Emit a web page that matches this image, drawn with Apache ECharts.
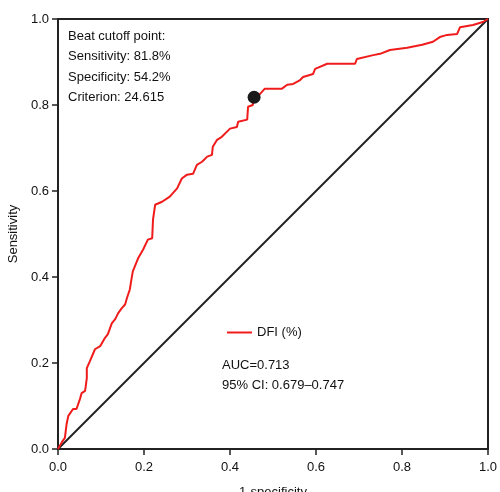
<!DOCTYPE html>
<html>
<head>
<meta charset="utf-8">
<script src="https://cdn.jsdelivr.net/npm/echarts@6/dist/echarts.min.js"></script>
<style>html,body{margin:0;padding:0;background:#fff}#c{width:500px;height:492px}</style>
</head>
<body>
<div id="c"></div>
<script>
const rocX = [0,0.009,0.016,0.020,0.024,0.035,0.043,0.051,0.055,0.063,0.067,0.067,0.074,0.086,0.098,0.109,0.116,0.125,0.133,0.140,0.148,0.156,0.160,0.167,0.170,0.174,0.186,0.198,0.209,0.219,0.221,0.226,0.242,0.260,0.277,0.288,0.300,0.314,0.323,0.335,0.347,0.358,0.360,0.370,0.381,0.393,0.400,0.416,0.419,0.440,0.442,0.453,0.456,0.470,0.481,0.521,0.533,0.547,0.563,0.570,0.593,0.598,0.626,0.691,0.695,0.733,0.749,0.772,0.812,0.847,0.872,0.888,0.905,0.928,0.935,0.965,0.988,1];
const rocY = [0,0.016,0.026,0.058,0.077,0.093,0.093,0.116,0.130,0.135,0.165,0.188,0.204,0.232,0.239,0.258,0.267,0.292,0.302,0.316,0.327,0.336,0.350,0.371,0.390,0.413,0.443,0.464,0.487,0.490,0.534,0.568,0.575,0.587,0.606,0.629,0.638,0.640,0.661,0.668,0.680,0.684,0.703,0.719,0.726,0.738,0.745,0.749,0.761,0.766,0.796,0.800,0.817,0.826,0.838,0.838,0.847,0.849,0.858,0.865,0.872,0.884,0.896,0.896,0.907,0.916,0.919,0.928,0.933,0.940,0.947,0.958,0.963,0.965,0.981,0.986,0.993,1];
const cutoffPoint = [0.456, 0.818];
const axisTicks = [0, 0.2, 0.4, 0.6, 0.8, 1.0];
const seriesName = 'DFI (%)';
const infoLines = ['Beat cutoff point:', 'Sensitivity: 81.8%', 'Specificity: 54.2%', 'Criterion: 24.615'];
const statLines = ['AUC=0.713', '95% CI: 0.679\u20130.747'];

const FONT = 'Liberation Sans, Arial, sans-serif';
const chart = echarts.init(document.getElementById('c'));
const rocData = rocX.map((x, i) => [x, rocY[i]]);
const axisCommon = {
  type: 'value', min: 0, max: 1, interval: 0.2,
  axisLine: {show: true, lineStyle: {color: '#222', width: 2}},
  axisTick: {show: true, length: 6, lineStyle: {color: '#222', width: 1.5}},
  splitLine: {show: false},
  axisLabel: {color: '#111', fontSize: 13, fontFamily: FONT, formatter: v => v.toFixed(1)},
  nameTextStyle: {color: '#111', fontSize: 13, fontFamily: FONT}
};
chart.setOption({
  animation: false,
  grid: {left: 58, right: 12, top: 19, bottom: 43, containLabel: false, outerBoundsMode: 'none', show: true, borderColor: '#222', borderWidth: 2, backgroundColor: 'transparent'},
  xAxis: Object.assign({}, axisCommon, {name: '1-specificity', nameLocation: 'middle', nameGap: 37, axisLabel: Object.assign({}, axisCommon.axisLabel, {margin: 12})}),
  yAxis: Object.assign({}, axisCommon, {name: 'Sensitivity', nameLocation: 'middle', nameGap: 35, axisLabel: Object.assign({}, axisCommon.axisLabel, {margin: 9})}),
  legend: {
    data: [{name: seriesName, icon: 'rect'}],
    left: 222, top: 321, itemWidth: 25, itemHeight: 2, itemGap: 6,
    textStyle: {color: '#111', fontSize: 13, fontFamily: FONT}
  },
  series: [
    {type: 'line', data: [[0,0],[1,1]], symbol: 'none', silent: true, lineStyle: {color: '#222', width: 2}, z: 2},
    {name: seriesName, type: 'line', data: rocData, symbol: 'none', lineStyle: {color: '#f01c1c', width: 2}, itemStyle: {color: '#f01c1c'}, z: 3},
    {type: 'scatter', data: [cutoffPoint], symbolSize: 13, itemStyle: {color: '#1a1a1a', opacity: 1}, z: 4}
  ],
  graphic: [
    {type: 'text', left: 68, top: 26, style: {text: infoLines.join('\n'), lineHeight: 20.5, fill: '#111', font: '13px ' + FONT}},
    {type: 'text', left: 222, top: 355, style: {text: statLines.join('\n'), lineHeight: 20, fill: '#111', font: '13px ' + FONT}}
  ]
});
</script>
</body>
</html>
